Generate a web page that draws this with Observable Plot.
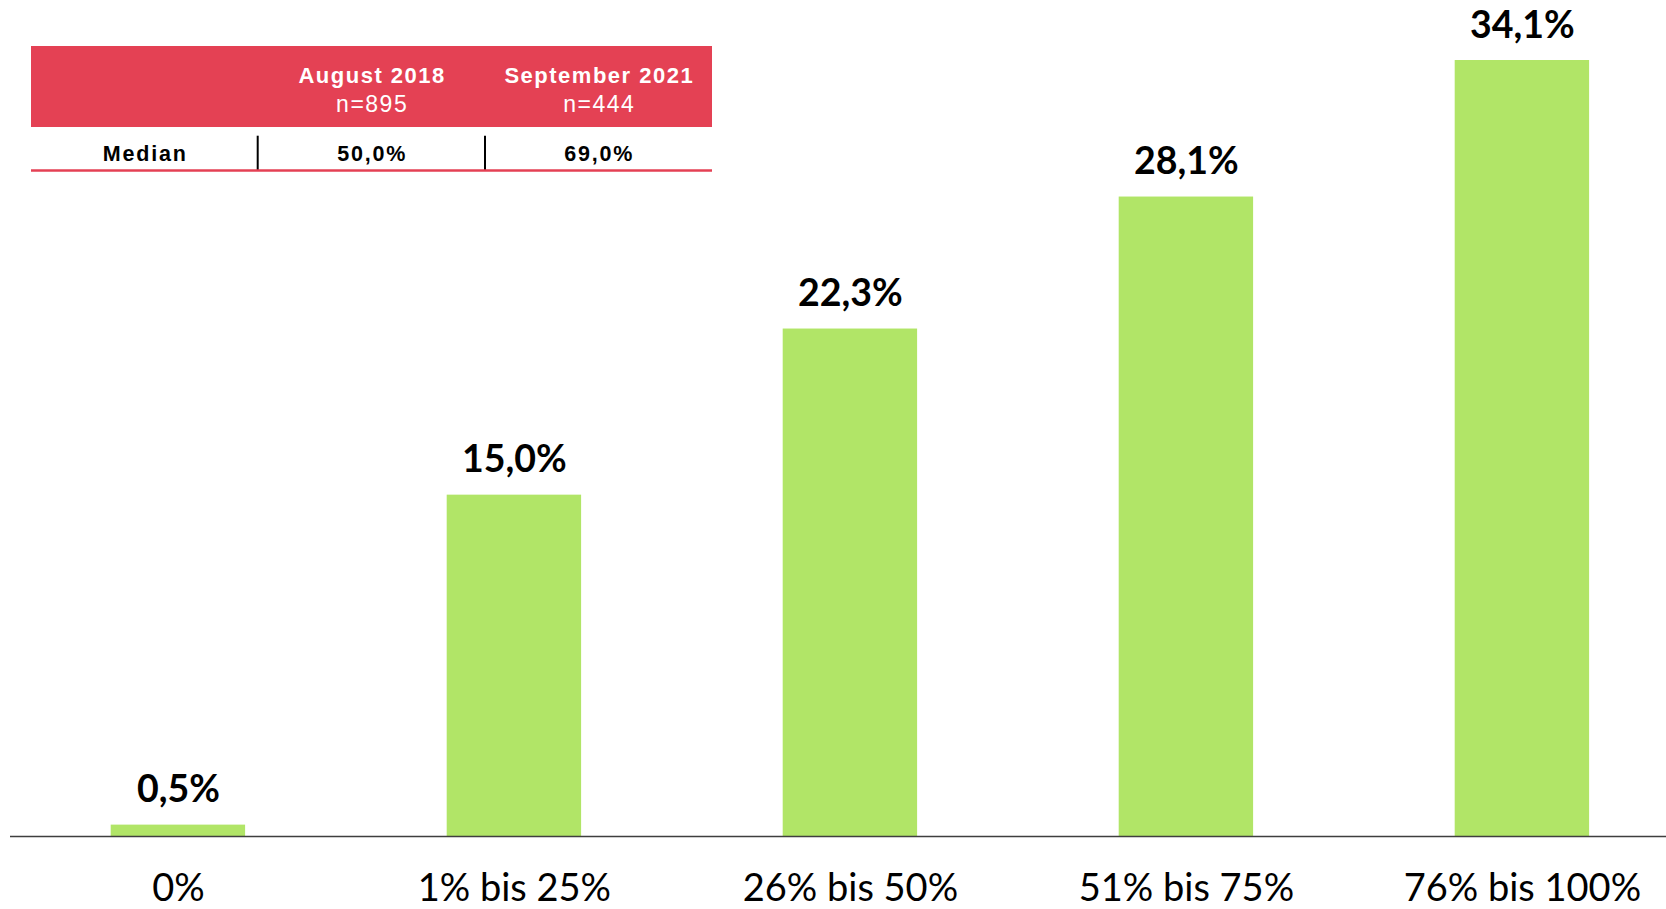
<!DOCTYPE html>
<html>
<head>
<meta charset="utf-8">
<script src="https://cdn.jsdelivr.net/npm/d3@7"></script>
<script src="https://cdn.jsdelivr.net/npm/@observablehq/plot@0.6"></script>
<style>
  html, body { margin: 0; padding: 0; background: #fff; }
  #wrap { position: relative; width: 1666px; height: 909px; overflow: hidden; }
  #wrap svg { display: block; }
  #table { position: absolute; left: 0; top: 0; }
</style>
</head>
<body>
<div id="wrap"></div>
<script>
// ---- Data ----
const categories = ["0%", "1% bis 25%", "26% bis 50%", "51% bis 75%", "76% bis 100%"];
const shares = [0.5, 15.0, 22.3, 28.1, 34.1];

// Median table
const tableHeaders = ["August 2018", "September 2021"];
const tableSamples = ["n=895", "n=444"];
const tableRowLabel = "Median";
const tableMedians = ["50,0%", "69,0%"];

// ---- Styles ----
const barColor = "#b1e567";
const red = "#e44154";

const data = categories.map((c, i) => ({category: c, value: shares[i]}));
const fmt = v => d3.format(".1f")(v).replace(".", ",") + "%";

const chart = Plot.plot({
  width: 1666,
  height: 909,
  marginTop: 60,
  marginBottom: 73,
  marginLeft: 10,
  marginRight: 0,
  style: {background: "#fff", overflow: "visible"},
  x: {domain: categories, range: [43.5, 1656.3], paddingInner: 0.6, paddingOuter: 0.2, round: false, label: null},
  y: {domain: [0, d3.max(shares)], axis: null, label: null},
  marks: [
    Plot.barY(data, {x: "category", y: "value", fill: barColor}),
    Plot.ruleY([0], {stroke: "#3f3f3f", strokeWidth: 1.4}),
    Plot.text(data, {
      x: "category", y: "value", text: d => fmt(d.value),
      lineAnchor: "bottom", dy: -23, fontSize: 37.5, fontWeight: "bold",
      fontFamily: "Lato", fill: "#000"
    }),
    Plot.axisX({
      tickSize: 0, tickPadding: 38, fontSize: 38, fontFamily: "Lato",
      color: "#000", label: null
    })
  ]
});
document.getElementById("wrap").appendChild(chart);

// ---- Median table overlay ----
const cols = [31, 257.7, 485, 712];
const svg = d3.select("#wrap").append("svg")
  .attr("id", "table").attr("width", 760).attr("height", 190);

svg.append("rect").attr("x", cols[0]).attr("y", 46)
  .attr("width", cols[3] - cols[0]).attr("height", 81).attr("fill", red);

const ff = "Liberation Sans, Arial, sans-serif";
tableHeaders.forEach((h, i) => {
  const cx = (cols[i + 1] + cols[i + 2]) / 2;
  svg.append("text").attr("x", cx + 0.8).attr("y", 82.7)
    .attr("text-anchor", "middle").attr("fill", "#fff")
    .attr("font-family", ff)
    .attr("font-weight", "bold").attr("font-size", 22)
    .attr("letter-spacing", 1.5).text(h);
  svg.append("text").attr("x", cx + 0.8).attr("y", 111.7)
    .attr("text-anchor", "middle").attr("fill", "#fff")
    .attr("font-family", ff)
    .attr("font-size", 23)
    .attr("letter-spacing", 1.5).text(tableSamples[i]);
  svg.append("text").attr("x", cx + 0.8).attr("y", 160.7)
    .attr("text-anchor", "middle").attr("fill", "#000")
    .attr("font-family", ff)
    .attr("font-weight", "bold").attr("font-size", 21.5)
    .attr("letter-spacing", 1.8).text(tableMedians[i]);
});
svg.append("text").attr("x", (cols[0] + cols[1]) / 2 + 0.9).attr("y", 160.7)
  .attr("text-anchor", "middle").attr("fill", "#000")
  .attr("font-family", ff)
  .attr("font-weight", "bold").attr("font-size", 21.5)
  .attr("letter-spacing", 1.8).text(tableRowLabel);

[cols[1], cols[2]].forEach(x => {
  svg.append("line").attr("x1", x).attr("x2", x).attr("y1", 135.7).attr("y2", 170)
    .attr("stroke", "#000").attr("stroke-width", 2);
});
svg.append("line").attr("x1", cols[0]).attr("x2", cols[3]).attr("y1", 170.5).attr("y2", 170.5)
  .attr("stroke", red).attr("stroke-width", 2.5);
</script>
</body>
</html>
